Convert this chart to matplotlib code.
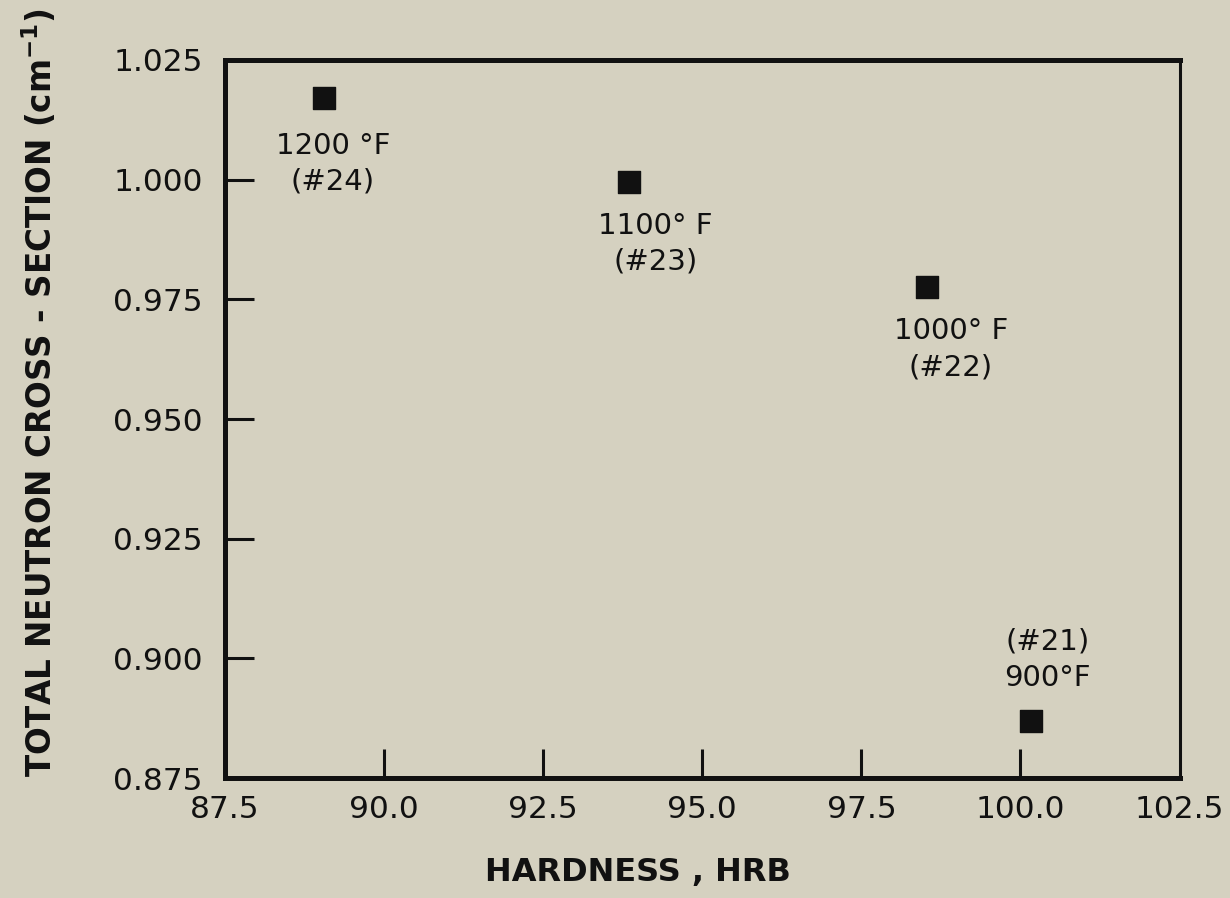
import matplotlib
matplotlib.use("Agg")
import matplotlib.pyplot as plt

# hardness vs. total neutron cross-section for the four temper temperatures
hardness = [89.05, 93.85, 98.53, 100.16]
cross_section = [1.017, 0.9995, 0.9775, 0.887]
labels = ["1200 °F\n(#24)", "1100° F\n(#23)", "1000° F\n(#22)", "(#21)\n900°F"]
# label offsets (pixels) from each point, and vertical alignment
offsets = [(9, -34), (26, -30), (24, -30), (17, 29)]
valign = ["top", "top", "top", "bottom"]

xticks = [87.5, 90.0, 92.5, 95.0, 97.5, 100.0, 102.5]
yticks = [0.875, 0.900, 0.925, 0.950, 0.975, 1.000, 1.025]

bg = "#d5d1c0"
ink = "#111111"

plt.rcParams["font.family"] = ["DejaVu Sans"]

fig = plt.figure(figsize=(12.3, 8.98), dpi=100, facecolor=bg)
ax = fig.add_axes([0.183, 0.1336, 0.776, 0.7996], facecolor=bg)

ax.scatter(hardness, cross_section, marker="s", s=230, color=ink, zorder=3)

for x, y, txt, off, va in zip(hardness, cross_section, labels, offsets, valign):
    ax.annotate(txt, (x, y), xytext=off, textcoords="offset pixels",
                ha="center", va=va, fontsize=21, color=ink, linespacing=1.35)

ax.set_xlim(87.5, 102.5)
ax.set_ylim(0.875, 1.025)
ax.set_xticks(xticks)
ax.set_xticklabels([f"{v:.1f}" for v in xticks])
ax.set_yticks(yticks)
ax.set_yticklabels([f"{v:.3f}" for v in yticks])

ax.tick_params(direction="in", length=21, width=2.2, colors=ink,
               labelsize=22.5, labelcolor=ink)
ax.tick_params(axis="x", pad=12)
ax.tick_params(axis="y", pad=16)

# hide the tick marks sitting on the corners
for t in (ax.xaxis.get_major_ticks()[0], ax.xaxis.get_major_ticks()[-1],
          ax.yaxis.get_major_ticks()[0], ax.yaxis.get_major_ticks()[-1]):
    t.tick1line.set_visible(False)

for side in ("left", "top", "bottom"):
    ax.spines[side].set_linewidth(3.6)
    ax.spines[side].set_color(ink)
ax.spines["right"].set_linewidth(2.2)
ax.spines["right"].set_color(ink)

fig.text(638 / 1230, 1 - 872 / 898, "HARDNESS , HRB", ha="center", va="center",
         fontsize=23, fontweight="bold", color=ink)
fig.text(40 / 1230, 1 - 393 / 898, "TOTAL NEUTRON CROSS - SECTION (cm$^{\\mathbf{-1}}$)",
         rotation=90, ha="center", va="center", fontsize=23.5, fontweight="bold",
         color=ink)

fig.savefig("out.png", dpi=100, facecolor=bg)
